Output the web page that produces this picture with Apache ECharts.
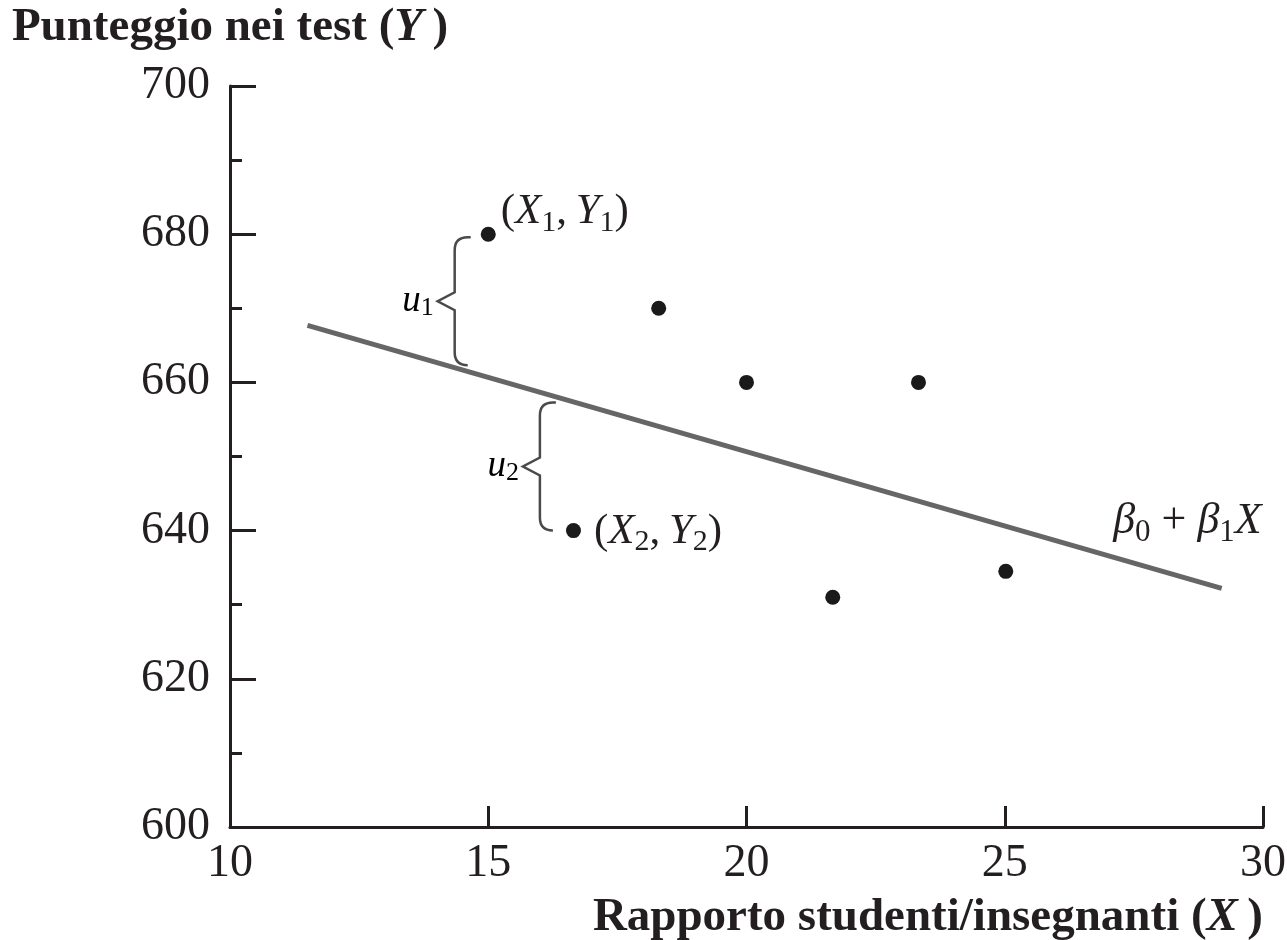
<!DOCTYPE html>
<html><head><meta charset="utf-8">
<script src="https://cdn.jsdelivr.net/npm/echarts@6/dist/echarts.min.js"></script>
<style>html,body{margin:0;padding:0;background:#fff}#c{width:1287px;height:940px}</style>
</head><body><div id="c"></div>
<script>
// ---- data ----
const pointX = [15, 18.3, 20, 23.33, 16.65, 21.67, 25.02];
const pointY = [680, 670, 660, 660, 640, 631, 634.5];
const pointSub = ['1', null, null, null, '2', null, null];   // (X_i, Y_i) annotations
const lineX = [11.5, 29.2];
const lineY = [667.7, 632.2];
const braceX = [14.35, 16.0];
const braceTop = [679.6, 657.3];
const braceBottom = [662.3, 640.0];
const braceSub = ['1', '2'];
const xMin = 10, xMax = 30, xStep = 5;
const yMin = 600, yMax = 700, yStep = 20;
const yTitle = 'Punteggio nei test';
const yTitleVar = 'Y';
const xTitle = 'Rapporto studenti/insegnanti';
const xTitleVar = 'X';

const SERIF = '"Liberation Serif", "Times New Roman", serif';
const INK = '#231f20';

function subRich(main, sub, pad) {
  return {
    i: { fontFamily: SERIF, fontStyle: 'italic', fontSize: main, color: INK },
    r: { fontFamily: SERIF, fontSize: main, color: INK },
    s: { fontFamily: SERIF, fontSize: sub, color: INK, padding: [pad, 0, 0, 0] }
  };
}
const pointRich = subRich(43, 30, 22);
const braceRich = subRich(37, 26, 14);
const betaRich = subRich(44, 31, 23);
betaRich.b = { fontFamily: SERIF, fontStyle: 'italic', fontSize: 44, color: INK };

const scatterData = pointX.map((x, k) => {
  const item = { value: [x, pointY[k]] };
  if (pointSub[k]) {
    const s = pointSub[k];
    item.label = {
      show: true,
      position: 'right',
      distance: k === 0 ? 5 : 13,
      offset: k === 0 ? [0, -22] : [0, 1],
      formatter: '{r|(}{i|X}{s|' + s + '}{r|,\u2009}{i|Y}{s|' + s + '}{r|)}',
      rich: pointRich
    };
  }
  return item;
});

const braceData = braceX.map((x, k) => [x, braceTop[k], braceBottom[k]]);

function renderBrace(params, api) {
  const p1 = api.coord([api.value(0), api.value(1)]);
  const p2 = api.coord([api.value(0), api.value(2)]);
  const x = p1[0], yT = p1[1], yB = p2[1], yM = (yT + yB) / 2;
  const c = 13, t = 9, w = 17;
  const d = 'M' + (x + c + 3) + ' ' + yT + ' L' + (x + c) + ' ' + yT +
    ' Q' + x + ' ' + yT + ' ' + x + ' ' + (yT + c) +
    ' L' + x + ' ' + (yM - t) + ' L' + (x - w) + ' ' + yM + ' L' + x + ' ' + (yM + t) +
    ' L' + x + ' ' + (yB - c) + ' Q' + x + ' ' + yB + ' ' + (x + c) + ' ' + yB;
  const sub = braceSub[params.dataIndex];
  return {
    type: 'group',
    children: [
      { type: 'path', shape: { pathData: d },
        style: { fill: 'none', stroke: '#4a4a4a', lineWidth: 2.5 } },
      { type: 'text', x: x - w - 4, y: yM,
        style: { text: '{i|u}{s|' + sub + '}', rich: braceRich,
                 align: 'right', verticalAlign: 'middle' } }
    ]
  };
}

const chart = echarts.init(document.getElementById('c'), null, { renderer: 'canvas' });
chart.setOption({
  animation: false,
  backgroundColor: '#ffffff',
  grid: { left: 230, right: 24, top: 86, bottom: 113, containLabel: false, outerBoundsMode: 'none' },
  xAxis: {
    type: 'value', min: xMin, max: xMax, interval: xStep,
    name: xTitle + ' ({v|' + xTitleVar + '}\u2009)',
    nameLocation: 'end', nameGap: 0,
    nameTextStyle: {
      fontFamily: SERIF, fontWeight: 'bold', fontSize: 47, color: INK,
      align: 'right', verticalAlign: 'top', padding: [67, 0, 0, 0],
      rich: { v: { fontFamily: SERIF, fontWeight: 'bold', fontStyle: 'italic', fontSize: 47, color: INK } }
    },
    axisLine: { show: true, lineStyle: { color: INK, width: 3 } },
    axisTick: { show: true, inside: true, length: 21, lineStyle: { color: INK, width: 3 } },
    axisLabel: { fontFamily: SERIF, fontSize: 46, color: INK, margin: 14 },
    splitLine: { show: false }
  },
  yAxis: {
    type: 'value', min: yMin, max: yMax, interval: yStep,
    name: yTitle + ' ({v|' + yTitleVar + '}\u2009)',
    nameLocation: 'end', nameGap: 35,
    nameTextStyle: {
      fontFamily: SERIF, fontWeight: 'bold', fontSize: 47, color: INK,
      rich: { v: { fontFamily: SERIF, fontWeight: 'bold', fontStyle: 'italic', fontSize: 47, color: INK } }
    },
    axisLine: { show: true, lineStyle: { color: INK, width: 3 } },
    axisTick: { show: true, inside: true, length: 26, lineStyle: { color: INK, width: 3 } },
    minorTick: { show: true, splitNumber: 2, length: 12, lineStyle: { color: INK, width: 3 } },
    axisLabel: { fontFamily: SERIF, fontSize: 46, color: INK, margin: 20 },
    splitLine: { show: false },
    minorSplitLine: { show: false }
  },
  series: [
    {
      type: 'line',
      data: lineX.map((x, k) => [x, lineY[k]]),
      showSymbol: false,
      lineStyle: { color: '#666666', width: 5 },
      z: 2,
      endLabel: {
        show: true,
        align: 'right', verticalAlign: 'middle',
        distance: 0, offset: [40, -67],
        formatter: '{b|\u03b2}{s|0}{r| + }{b|\u03b2}{s|1}{i|X}',
        rich: betaRich
      }
    },
    {
      type: 'custom',
      renderItem: renderBrace,
      data: braceData,
      z: 3,
      silent: true
    },
    {
      type: 'scatter',
      data: scatterData,
      symbolSize: 15,
      itemStyle: { color: '#1a1a1a', opacity: 1 },
      z: 4
    }
  ]
});
</script>
</body></html>
